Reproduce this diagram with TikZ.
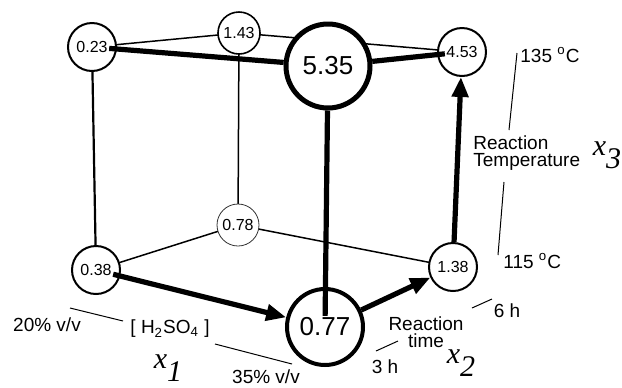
\documentclass[tikz,border=0pt]{standalone}
\usepackage{fontspec}
\setmainfont{Liberation Sans}
\newfontfamily\timesfont{Liberation Serif}
\usetikzlibrary{arrows.meta}
\usetikzlibrary{backgrounds}
\tikzset{
    ball/.style={
        circle,
        draw=black,
        fill=white,
        line width=1pt,
        minimum size=24pt,
        inner sep=0pt
    },
    smallball/.style={ball, line width=0.8pt, minimum size=21pt},
    bigball/.style={ball, line width=2.5pt, minimum size=42pt},
    val/.style={inner sep=0.6pt, font=\fontsize{8}{9}\selectfont},
    bigval/.style={inner sep=0.8pt, font=\fontsize{13}{14}\selectfont},
    thinedge/.style={line width=0.75pt},
    thickedge/.style={line width=2.6pt},
    arrow/.style={
        thickedge,
        -{Triangle[length=10pt,width=8pt]}
    },
    lbl/.style={font=\fontsize{9.5}{8.5}\selectfont, inner sep=0pt},
    tick/.style={line width=0.5pt},
    xlbl/.style={font=\timesfont\itshape\fontsize{15}{15}\selectfont, inner sep=0pt}
}
\newcommand{\xsub}[1]{x\raisebox{-6.5pt}{#1}}
\begin{document}
\begin{tikzpicture}[x=0.5pt, y=-0.5pt]
    \useasboundingbox (0,0) rectangle (622,387);

    % Circles (cube corners)
    \node[ball]    (c023) at (92,47)   {};
    \node[smallball] (c143) at (239,33) {};
    \node[bigball] (c535) at (328,66)  {};
    \node[ball]    (c453) at (462,52)  {};
    \node[ball]    (c038) at (96,270)  {};
    \node[smallball, line width=0.4pt, draw=black!80] (c078) at (238,225) {};
    \node[bigball, line width=2pt, minimum size=38pt] (c077) at (325,327) {};
    \node[ball]    (c138) at (453,267) {};

    % Values
    \node[val]    (t023) at (c023) {0.23};
    \node[val]    (t143) at (c143) {1.43};
    \node[bigval] (t535) at (c535) {5.35};
    \node[val]    (t453) at (c453) {4.53};
    \node[val]    (t038) at (c038) {0.38};
    \node[val]    (t078) at (c078) {0.78};
    \node[bigval] (t077) at (c077) {0.77};
    \node[val]    (t138) at (c138) {1.38};

    % Back edges
    \begin{scope}[on background layer]
        \draw[thinedge] (c023.center) -- (c143.center);
        \draw[thinedge] (c143.center) -- (c453.center);
        \draw[thinedge] (c143.center) -- (c078.center);
        \draw[thinedge] (c038.center) -- (c078.center);
        \draw[thinedge] (c078.center) -- (c138.center);
        \draw[line width=1.1pt] (c023.center) -- (c038.center);
    \end{scope}

    % Strong edges
    \draw[thickedge] (t023) -- (c535);
    \draw[thickedge] (c535) -- (t453);
    \draw[thickedge] (c535) -- (t077);
    \draw[arrow] (t038) -- (c077);
    \draw[arrow] (c077) -- (c138);
    \draw[arrow] (c138) -- (c453);

    % x3 axis
    \coordinate (h1) at (517,53);
    \coordinate (h2) at (509,130);
    \coordinate (h3) at (504,182);
    \coordinate (h4) at (498,255);
    \draw[tick] (h1) -- (h2);
    \draw[tick] (h3) -- (h4);
    \node[lbl, anchor=west] (t135) at (520,55) {135 \textsuperscript{o}C};
    \node[lbl, anchor=west] (t115) at (503,261) {115 \textsuperscript{o}C};
    \node[lbl, anchor=west, align=left] (temp) at (473,153) {Reaction\\Temperature};
    \node[xlbl] (x3) at (607,155) {\xsub{3}};

    % x2 axis
    \coordinate (r1) at (376,351);
    \coordinate (r2) at (398,341);
    \coordinate (r3) at (472,308);
    \coordinate (r4) at (492,299);
    \draw[tick] (r1) -- (r2);
    \draw[tick] (r3) -- (r4);
    \node[lbl] (t3h) at (385,367) {3 h};
    \node[lbl] (t6h) at (507,311) {6 h};
    \node[lbl, align=center] (rtime) at (426,332) {Reaction\\time};
    \node[xlbl] (x2) at (461,363) {\xsub{2}};

    % x1 axis
    \coordinate (s1) at (70,308);
    \coordinate (s2) at (123,321);
    \coordinate (s3) at (215,344);
    \coordinate (s4) at (292,364);
    \draw[tick] (s1) -- (s2);
    \draw[tick] (s3) -- (s4);
    \node[lbl] (t20) at (47,325) {20\% v/v};
    \node[lbl] (t35) at (266,377) {35\% v/v};
    \node[lbl] (acid) at (170,329) {[ H\textsubscript{2}SO\textsubscript{4} ]};
    \node[xlbl] (x1) at (168,368) {\xsub{1}};
\end{tikzpicture}
\end{document}
